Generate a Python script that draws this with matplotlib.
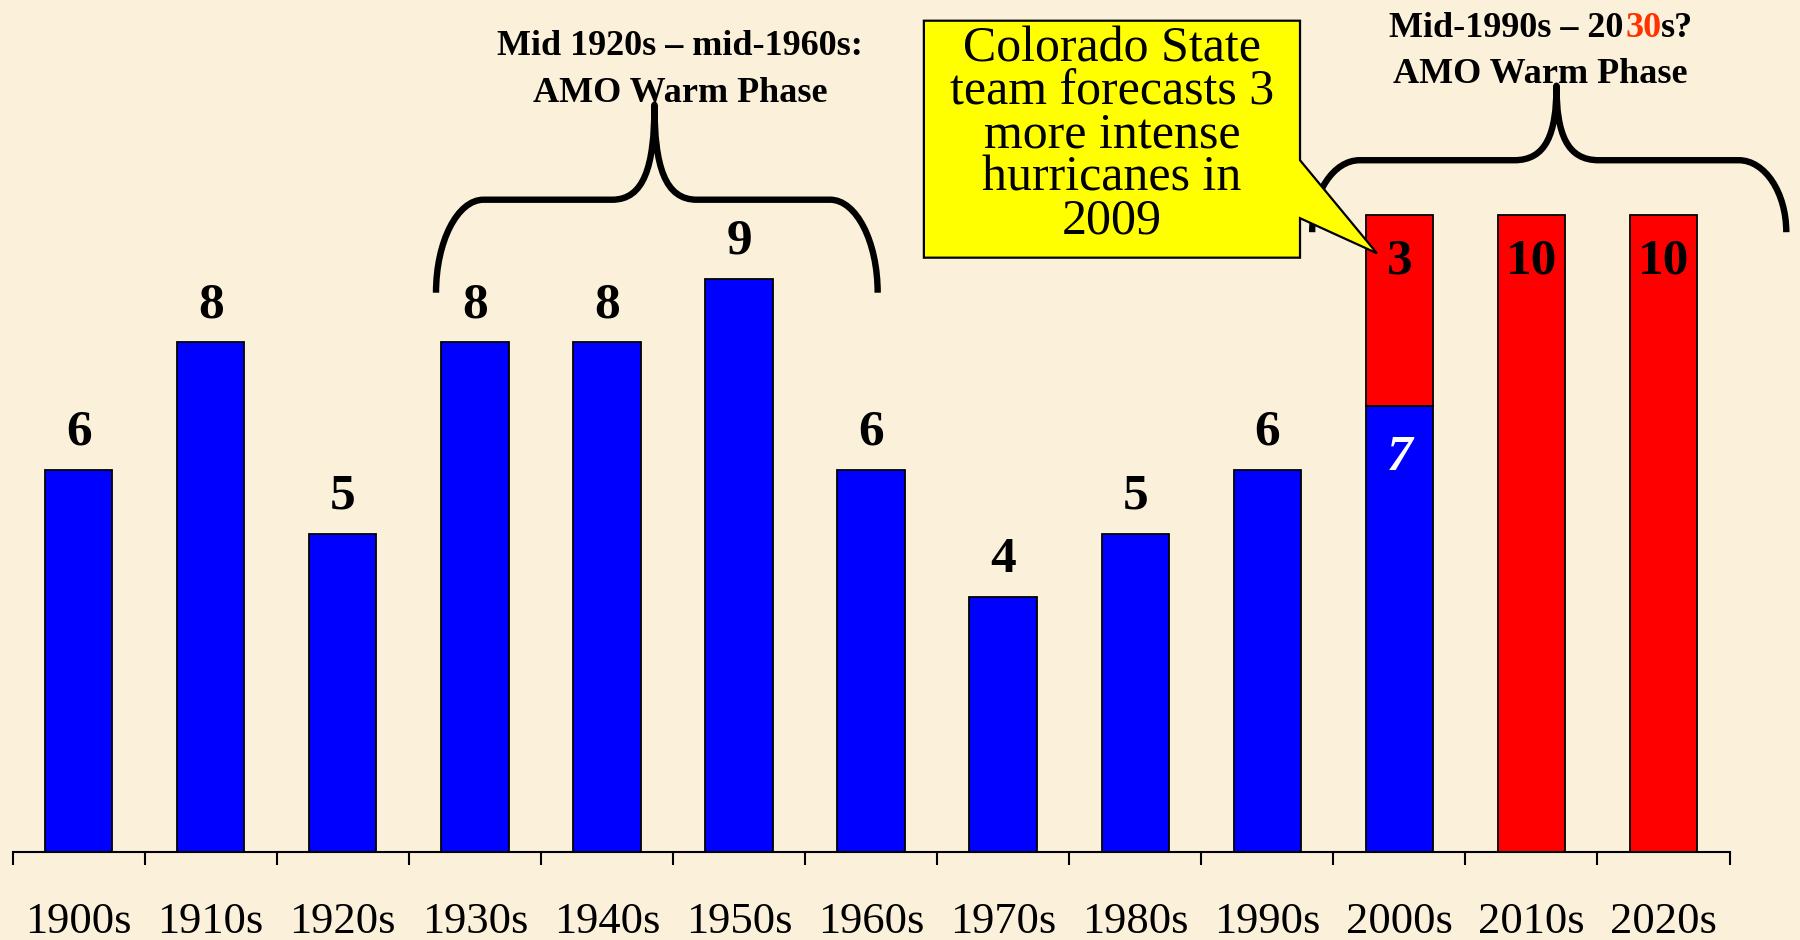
import matplotlib
matplotlib.use("Agg")
import matplotlib.pyplot as plt
import numpy as np
from matplotlib.path import Path
from matplotlib.patches import PathPatch, Polygon

# ---------------- data ----------------
decades = ["1900s", "1910s", "1920s", "1930s", "1940s", "1950s", "1960s",
           "1970s", "1980s", "1990s", "2000s", "2010s", "2020s"]
observed = [6, 8, 5, 8, 8, 9, 6, 4, 5, 6, 7, 0, 0]      # blue
forecast = [0, 0, 0, 0, 0, 0, 0, 0, 0, 0, 3, 10, 10]    # red (stacked on blue)

note1 = ["Mid 1920s \u2013 mid-1960s:", "AMO Warm Phase"]
note2_parts = [("Mid-1990s \u2013 20", "black"), ("30", "#FF3300"), ("s?", "black")]
note2_line2 = "AMO Warm Phase"
callout_text = "Colorado State\nteam forecasts 3\nmore intense\nhurricanes in\n2009"

BG = "#FBF0DA"
BLUE = "#0000FF"
RED = "#FF0000"
SERIF = "Liberation Serif"

# ---------------- figure ----------------
W, H, DPI = 1800, 940, 100
fig = plt.figure(figsize=(W / DPI, H / DPI), dpi=DPI)
fig.patch.set_facecolor(BG)

ax_left, ax_right, ax_bottom_px = 12.6, 1729.5, 852
ax = fig.add_axes([ax_left / W, (H - ax_bottom_px) / H,
                   (ax_right - ax_left) / W, ax_bottom_px / H])
ax.set_facecolor("none")
px_per_unit = 63.7
ax.set_xlim(-0.5, len(decades) - 0.5)
ax.set_ylim(0, ax_bottom_px / px_per_unit)

x = np.arange(len(decades))
obs = np.array(observed, dtype=float)
fc = np.array(forecast, dtype=float)
bw = 0.51

m_obs = obs > 0
ax.bar(x[m_obs], obs[m_obs], width=bw, color=BLUE, edgecolor="black",
       linewidth=1.3, zorder=2)
m_fc = fc > 0
ax.bar(x[m_fc], fc[m_fc], bottom=obs[m_fc], width=bw, color=RED,
       edgecolor="black", linewidth=1.3, zorder=2)

# value labels
for i in range(len(decades)):
    if m_obs[i] and not m_fc[i]:
        ax.annotate(str(observed[i]), xy=(x[i], obs[i]), xytext=(0, 25),
                    textcoords="offset pixels", ha="center", va="baseline",
                    fontsize=37, fontweight="bold", family=SERIF, color="black",
                    zorder=4)
    elif m_obs[i] and m_fc[i]:
        ax.annotate(str(observed[i]), xy=(x[i], obs[i]), xytext=(0, -64),
                    textcoords="offset pixels", ha="center", va="baseline",
                    fontsize=37, fontweight="bold", fontstyle="italic",
                    family=SERIF, color="white", zorder=4)
    if m_fc[i]:
        ax.annotate(str(forecast[i]), xy=(x[i], obs[i] + fc[i]), xytext=(0, -59),
                    textcoords="offset pixels", ha="center", va="baseline",
                    fontsize=37, fontweight="bold", family=SERIF, color="black",
                    zorder=4)

# axes styling
for s in ["left", "right", "top"]:
    ax.spines[s].set_visible(False)
ax.spines["bottom"].set_linewidth(1.5)
ax.set_yticks([])
ax.set_xticks(x)
ax.set_xticklabels(decades, fontsize=32, family=SERIF)
ax.tick_params(axis="x", which="major", length=0, pad=36)
ax.set_xticks(np.arange(-0.5, len(decades)), minor=True)
ax.tick_params(axis="x", which="minor", length=9.5, width=1.5, direction="out")

# ---------------- braces ----------------
def brace(x0, x1, xm, y_end, y_flat, y_tip, rx=0.36, rx2=0.32, lw=4.6):
    verts = [
        (x0, y_end),
        (x0, y_end + 0.55 * (y_flat - y_end)), (x0 + 0.45 * rx, y_flat), (x0 + rx, y_flat),
        (xm - rx2, y_flat),
        (xm - 0.25 * rx2, y_flat), (xm, y_flat + 0.35 * (y_tip - y_flat)), (xm, y_tip),
        (xm, y_flat + 0.35 * (y_tip - y_flat)), (xm + 0.25 * rx2, y_flat), (xm + rx2, y_flat),
        (x1 - rx, y_flat),
        (x1 - 0.45 * rx, y_flat), (x1, y_end + 0.55 * (y_flat - y_end)), (x1, y_end),
    ]
    codes = [Path.MOVETO,
             Path.CURVE4, Path.CURVE4, Path.CURVE4,
             Path.LINETO,
             Path.CURVE4, Path.CURVE4, Path.CURVE4,
             Path.CURVE4, Path.CURVE4, Path.CURVE4,
             Path.LINETO,
             Path.CURVE4, Path.CURVE4, Path.CURVE4]
    ax.add_patch(PathPatch(Path(verts, codes), fill=False, lw=lw, color="black",
                           capstyle="butt", joinstyle="round", clip_on=False, zorder=3))

brace(2.706, 6.05, 4.36, 8.78, 10.24, 11.73)
brace(9.34, 12.93, 11.19, 9.73, 10.86, 12.03)

# ---------------- annotations ----------------
ax.text(4.553, 12.51, note1[0], ha="center", va="baseline", fontsize=26,
        fontweight="bold", family=SERIF, zorder=4)
ax.text(4.553, 11.77, note1[1], ha="center", va="baseline", fontsize=26,
        fontweight="bold", family=SERIF, zorder=4)

renderer = fig.canvas.get_renderer()
full = "".join(p for p, _ in note2_parts)
def text_w(s):
    t = ax.text(0, 0, s, fontsize=26, fontweight="bold", family=SERIF)
    w = t.get_window_extent(renderer).width
    t.remove()
    return w
total = text_w(full)
start = -total / 2
prefix = ""
for s, c in note2_parts:
    off = start + (text_w(prefix) + (1.5 if prefix else 0))
    ax.annotate(s, xy=(11.07, 12.79), xycoords="data", xytext=(off, 0),
                textcoords="offset pixels", ha="left", va="baseline",
                fontsize=26, fontweight="bold", family=SERIF, color=c, zorder=4,
                annotation_clip=False)
    prefix += s
ax.text(11.07, 12.07, note2_line2, ha="center", va="baseline", fontsize=26,
        fontweight="bold", family=SERIF, zorder=4)

# callout box with pointer
bx0, bx1, by0, by1 = 6.40, 9.248, 9.33, 13.05
callout = Polygon([(bx0, by0), (bx0, by1), (bx1, by1), (bx1, 10.86),
                   (9.83, 9.40), (bx1, 9.95), (bx1, by0)], closed=True,
                  facecolor="#FFFF00", edgecolor="black", linewidth=1.6,
                  joinstyle="miter", clip_on=False, zorder=5)
ax.add_patch(callout)
ax.text((bx0 + bx1) / 2, 12.96, callout_text, ha="center", va="top",
        fontsize=36, family=SERIF, linespacing=0.9, zorder=6)

fig.savefig("out.png", dpi=DPI, facecolor=BG)
